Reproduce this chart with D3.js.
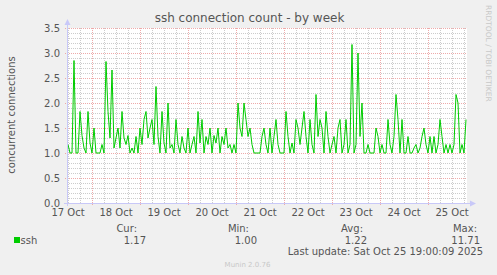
<!DOCTYPE html>
<html>
<head>
<meta charset="utf-8">
<script src="https://cdn.jsdelivr.net/npm/d3@7"></script>
<style>
html, body { margin: 0; padding: 0; background: #f0f0f0; }
svg { display: block; font-family: "DejaVu Sans", sans-serif; }
</style>
</head>
<body>
<svg></svg>
<script>
// hourly samples, first one at 17 Oct 12:00 UTC
const firstSample = Date.UTC(2025, 9, 17, 12, 0);
const sshValues = [
  1.17, 1.0, 1.0, 2.85, 1.0, 1.0, 1.83, 1.35, 1.1, 1.0, 1.83, 1.2,
  1.0, 1.5, 1.0, 1.0, 1.0, 1.17, 1.0, 2.83, 1.83, 1.3, 2.66, 1.1,
  1.3, 1.5, 1.1, 1.83, 1.3, 1.17, 1.35, 1.0, 1.1, 1.0, 1.33, 1.0,
  1.5, 1.17, 1.67, 1.83, 1.3, 1.5, 1.67, 1.17, 2.33, 1.33, 1.0, 1.83,
  1.2, 1.0, 2.0, 1.1, 1.17, 1.0, 1.67, 1.17, 1.0, 1.33, 1.1, 1.0,
  1.5, 1.0, 1.17, 1.33, 1.0, 1.83, 1.2, 1.67, 1.0, 1.33, 1.17, 1.5,
  1.0, 1.35, 1.2, 1.5, 1.0, 1.33, 1.17, 1.5, 1.1, 1.17, 1.0, 1.17,
  1.0, 2.0, 1.5, 1.33, 2.0, 1.67, 1.33, 1.5, 1.17, 1.0, 1.0, 1.0,
  1.0, 1.33, 1.5, 1.17, 1.0, 1.5, 1.0, 1.33, 1.67, 1.17, 1.0, 1.0,
  1.0, 1.83, 1.33, 1.0, 1.2, 1.0, 1.67, 1.5, 1.17, 1.5, 1.83, 1.33,
  1.0, 1.67, 1.17, 1.0, 2.17, 1.33, 1.67, 1.5, 1.0, 1.83, 1.33, 1.0,
  1.17, 1.33, 1.0, 1.5, 1.67, 1.0, 1.17, 1.67, 1.0, 1.17, 3.17, 1.0,
  1.17, 3.0, 1.33, 2.0, 1.0, 1.0, 1.17, 1.0, 1.0, 1.0, 1.5, 1.33,
  1.0, 1.17, 1.0, 1.0, 1.67, 1.17, 1.0, 1.33, 2.17, 1.67, 1.0, 1.67,
  1.0, 1.0, 1.33, 1.0, 1.0, 1.1, 1.17, 1.0, 1.1, 1.33, 1.5, 1.17,
  1.0, 1.33, 1.0, 1.33, 1.0, 1.17, 1.67, 1.33, 1.0, 1.17, 1.0, 1.17,
  1.0, 1.17, 2.17, 2.0, 1.0, 1.17, 1.0, 1.67
];
const yTicks = [0, 0.5, 1.0, 1.5, 2.0, 2.5, 3.0, 3.5];
const dayLabels = ['17 Oct', '18 Oct', '19 Oct', '20 Oct', '21 Oct', '22 Oct', '23 Oct', '24 Oct', '25 Oct'];
const legendHeads = ['Cur:', 'Min:', 'Avg:', 'Max:'];
const legendValues = ['1.17', '1.00', '1.22', '11.71'];

const width = 497;
const height = 275;
const plotLeft = 67, plotRight = 467, plotTop = 28, plotBottom = 203;

const svg = d3.select('svg').attr('width', width).attr('height', height);

const data = sshValues.map((v, i) => ({ t: new Date(firstSample + i * 3600e3), v: v }));

const x = d3.scaleUtc()
  .domain([new Date(Date.UTC(2025, 9, 17, 11, 30)), new Date(Date.UTC(2025, 9, 25, 19, 30))])
  .range([plotLeft, plotRight]);
const y = d3.scaleLinear().domain([0, 3.5]).range([plotBottom, plotTop]);

svg.append('rect')
  .attr('x', plotLeft).attr('y', plotTop)
  .attr('width', plotRight - plotLeft).attr('height', plotBottom - plotTop)
  .style('fill', '#ffffff');

// minor grid
const grid = svg.append('g').attr('shape-rendering', 'crispEdges');
grid.selectAll('.vmin')
  .data(d3.utcHour.every(6).range(x.domain()[0], x.domain()[1]))
  .enter().append('line')
  .attr('x1', d => Math.round(x(d)) + 0.5).attr('x2', d => Math.round(x(d)) + 0.5)
  .attr('y1', plotTop).attr('y2', plotBottom)
  .style('stroke', '#cccccc').style('stroke-dasharray', '1,1');
grid.selectAll('.hmin')
  .data(d3.range(1, 35).map(i => i / 10))
  .enter().append('line')
  .attr('x1', plotLeft).attr('x2', plotRight)
  .attr('y1', d => Math.round(y(d)) + 0.5).attr('y2', d => Math.round(y(d)) + 0.5)
  .style('stroke', '#cccccc').style('stroke-dasharray', '1,1');

// major grid
grid.selectAll('.vmaj')
  .data(d3.utcDay.range(x.domain()[0], x.domain()[1]))
  .enter().append('line')
  .attr('x1', d => Math.round(x(d)) + 0.5).attr('x2', d => Math.round(x(d)) + 0.5)
  .attr('y1', plotTop).attr('y2', plotBottom + 3)
  .style('stroke', '#eeaaaa').style('stroke-dasharray', '1,1');
grid.selectAll('.hmaj')
  .data(yTicks)
  .enter().append('line')
  .attr('x1', plotLeft - 2).attr('x2', plotRight)
  .attr('y1', d => Math.round(y(d)) + 0.5).attr('y2', d => Math.round(y(d)) + 0.5)
  .style('stroke', '#eeaaaa').style('stroke-dasharray', '1,1');

// the series
svg.append('path')
  .datum(data)
  .attr('d', d3.line().x(d => x(d.t)).y(d => y(d.v)))
  .style('fill', 'none')
  .style('stroke', '#00cc00')
  .style('stroke-width', 1);

// axes
const axisColor = '#c8c8f8';
svg.append('line')
  .attr('x1', plotLeft + 0.5).attr('x2', plotLeft + 0.5).attr('y1', plotBottom + 3).attr('y2', plotTop - 6)
  .style('stroke', axisColor);
svg.append('line')
  .attr('x1', plotLeft - 3).attr('x2', plotRight + 6).attr('y1', plotBottom + 0.5).attr('y2', plotBottom + 0.5)
  .style('stroke', axisColor);
svg.append('path')
  .attr('d', `M${plotLeft - 2.5},${plotTop - 3} L${plotLeft + 3.5},${plotTop - 3} L${plotLeft + 0.5},${plotTop - 9} Z`)
  .style('fill', axisColor);
svg.append('path')
  .attr('d', `M${plotRight + 3},${plotBottom - 2.5} L${plotRight + 3},${plotBottom + 3.5} L${plotRight + 9},${plotBottom + 0.5} Z`)
  .style('fill', axisColor);

// tick labels
svg.selectAll('.ylab')
  .data(yTicks)
  .enter().append('text')
  .attr('x', 60).attr('y', d => y(d) + 3.6)
  .attr('text-anchor', 'end')
  .style('font-size', '10px').style('fill', '#555')
  .text(d => d.toFixed(1));

const noons = dayLabels.map((d, i) => new Date(Date.UTC(2025, 9, 17 + i, 12)));
svg.selectAll('.xlab')
  .data(dayLabels)
  .enter().append('text')
  .attr('x', (d, i) => x(noons[i])).attr('y', 216)
  .attr('text-anchor', 'middle')
  .style('font-size', '10px').style('fill', '#555')
  .text(d => d);

// titles
svg.append('text')
  .attr('x', 249.5).attr('y', 22)
  .attr('text-anchor', 'middle')
  .style('font-size', '12px').style('fill', '#555')
  .text('ssh connection count - by week');

svg.append('text')
  .attr('transform', 'translate(15, 115) rotate(-90)')
  .attr('text-anchor', 'middle')
  .style('font-size', '10px').style('fill', '#555')
  .text('concurrent connections');

svg.append('text')
  .attr('transform', 'translate(486, 5) rotate(90)')
  .style('font-size', '7.5px').style('fill', '#c8c8c8')
  .text('RRDTOOL / TOBI OETIKER');

// legend
svg.append('rect')
  .attr('x', 14).attr('y', 237).attr('width', 6).attr('height', 6)
  .style('fill', '#00cc00');
svg.append('text')
  .attr('x', 20.5).attr('y', 243.5)
  .style('font-size', '10px').style('fill', '#555')
  .text('ssh');

const headRight = [137, 249, 363, 477];
const valueRight = [146, 257, 367, 480];
svg.selectAll('.lhead')
  .data(legendHeads)
  .enter().append('text')
  .attr('x', (d, i) => headRight[i]).attr('y', 231.5)
  .attr('text-anchor', 'end')
  .style('font-size', '10px').style('fill', '#555')
  .text(d => d);
svg.selectAll('.lval')
  .data(legendValues)
  .enter().append('text')
  .attr('x', (d, i) => valueRight[i]).attr('y', 243.5)
  .attr('text-anchor', 'end')
  .style('font-size', '10px').style('fill', '#555')
  .text(d => d);

svg.append('text')
  .attr('x', 483).attr('y', 254.5)
  .attr('text-anchor', 'end')
  .style('font-size', '10px').style('fill', '#555')
  .text('Last update: Sat Oct 25 19:00:09 2025');

svg.append('text')
  .attr('x', 247.5).attr('y', 267)
  .attr('text-anchor', 'middle')
  .style('font-size', '7px').style('fill', '#c8c8c8')
  .text('Munin 2.0.76');
</script>
</body>
</html>
